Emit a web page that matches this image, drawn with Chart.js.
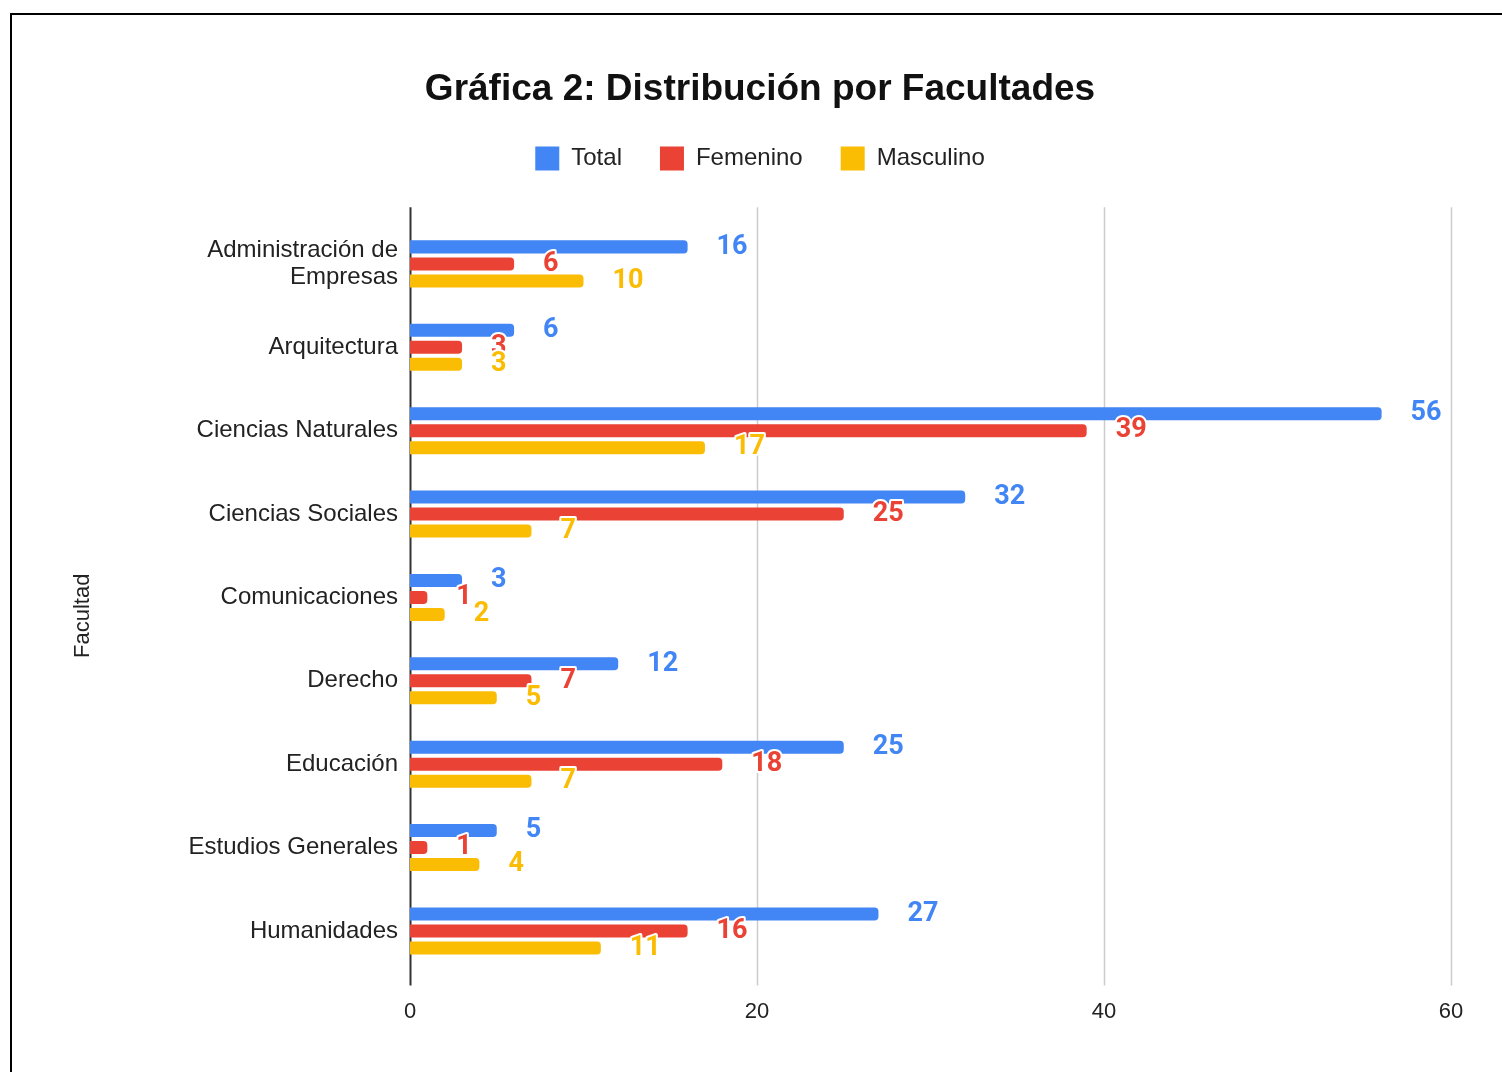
<!DOCTYPE html>
<html lang="es">
<head>
<meta charset="UTF-8">
<title>Gráfica 2: Distribución por Facultades</title>
<script src="https://cdn.jsdelivr.net/npm/chart.js@4.4.8/dist/chart.umd.min.js"></script>
<style>
  html, body { margin: 0; padding: 0; background: #fff; overflow: hidden; }
  #frame { position: absolute; left: 10px; top: 13px; width: 1600px; height: 1200px; border: 2.5px solid #000; }
  #chart { position: absolute; left: 0; top: 0; }
</style>
</head>
<body>
<div id="frame"></div>
<canvas id="chart" width="1502" height="1072"></canvas>
<script>
  const facultades = [
    ['Administración de', 'Empresas'],
    'Arquitectura',
    'Ciencias Naturales',
    'Ciencias Sociales',
    'Comunicaciones',
    'Derecho',
    'Educación',
    'Estudios Generales',
    'Humanidades'
  ];
  const total     = [16, 6, 56, 32, 3, 12, 25, 5, 27];
  const femenino  = [6, 3, 39, 25, 1, 7, 18, 1, 16];
  const masculino = [10, 3, 17, 7, 2, 5, 7, 4, 11];
  const xTicks = [0, 20, 40, 60];

  const BLUE = '#4285F4', RED = '#EA4335', YELLOW = '#FBBC04';
  const FONT = '"Liberation Sans", Arial, sans-serif';

  // vertical grid lines, a bit taller than the bar area
  const gridPlugin = {
    id: 'gridLines',
    beforeDatasetsDraw(chart) {
      const { ctx, chartArea, scales } = chart;
      ctx.save();
      xTicks.forEach(v => {
        const px = Math.round(scales.x.getPixelForValue(v)) + 0.5;
        ctx.strokeStyle = v === 0 ? '#333' : '#cccccc';
        ctx.lineWidth = v === 0 ? 2 : 1.5;
        ctx.beginPath();
        ctx.moveTo(px, chartArea.top - 15);
        ctx.lineTo(px, chartArea.bottom + 13);
        ctx.stroke();
      });
      ctx.restore();
    }
  };

  // value labels right of each bar, with a white halo
  const valuePlugin = {
    id: 'valueLabels',
    afterDatasetsDraw(chart) {
      const { ctx } = chart;
      ctx.save();
      ctx.font = 'bold 27px Roboto, "Liberation Sans", sans-serif';
      ctx.textAlign = 'left';
      ctx.textBaseline = 'middle';
      ctx.lineJoin = 'round';
      chart.data.datasets.forEach((ds, i) => {
        chart.getDatasetMeta(i).data.forEach((bar, j) => {
          const txt = String(ds.data[j]);
          const x = bar.x + 29, y = bar.y;
          ctx.strokeStyle = '#fff';
          ctx.lineWidth = 4;
          ctx.strokeText(txt, x, y);
          ctx.fillStyle = ds.backgroundColor;
          ctx.fillText(txt, x, y);
        });
      });
      ctx.restore();
    }
  };

  const barOpts = { borderRadius: 4, borderSkipped: 'start', categoryPercentage: 0.612, barPercentage: 0.765 };

  new Chart(document.getElementById('chart'), {
    type: 'bar',
    data: {
      labels: facultades,
      datasets: [
        Object.assign({ label: 'Total', data: total, backgroundColor: BLUE }, barOpts),
        Object.assign({ label: 'Femenino', data: femenino, backgroundColor: RED }, barOpts),
        Object.assign({ label: 'Masculino', data: masculino, backgroundColor: YELLOW }, barOpts)
      ]
    },
    options: {
      indexAxis: 'y',
      responsive: false,
      animation: false,
      layout: { padding: { left: 69, right: 51, top: 0, bottom: 21 } },
      plugins: {
        title: {
          display: true,
          text: 'Gráfica 2: Distribución por Facultades',
          color: '#111',
          font: { family: FONT, size: 37, weight: 'bold', lineHeight: 1 },
          padding: { top: 71.5, bottom: 0 }
        },
        legend: {
          display: true,
          position: 'top',
          labels: {
            boxWidth: 24, boxHeight: 24, padding: 38, color: '#222',
            font: { family: FONT, size: 24 }
          }
        },
        subtitle: {
          display: true,
          text: '',
          weight: 500,
          font: { size: 1 },
          padding: { top: 0, bottom: 40.5 }
        },
        tooltip: { enabled: false }
      },
      scales: {
        x: {
          min: 0, max: 60,
          grid: { display: false, drawTicks: false },
          border: { display: false },
          afterBuildTicks: s => { s.ticks = xTicks.map(v => ({ value: v })); },
          ticks: {
            padding: 26, color: '#222',
            font: { family: FONT, size: 22 }
          }
        },
        y: {
          grid: { display: false, drawTicks: false },
          border: { display: false },
          afterFit: s => { s.width = 341; },
          ticks: {
            padding: 12, color: '#222',
            font: { family: FONT, size: 24, lineHeight: 1.13 }
          },
          title: {
            display: true,
            text: 'Facultad' + '\u00a0'.repeat(6),
            color: '#222',
            padding: { top: 1, bottom: 0 },
            font: { family: FONT, size: 22 }
          }
        }
      }
    },
    plugins: [gridPlugin, valuePlugin]
  });
</script>
</body>
</html>
